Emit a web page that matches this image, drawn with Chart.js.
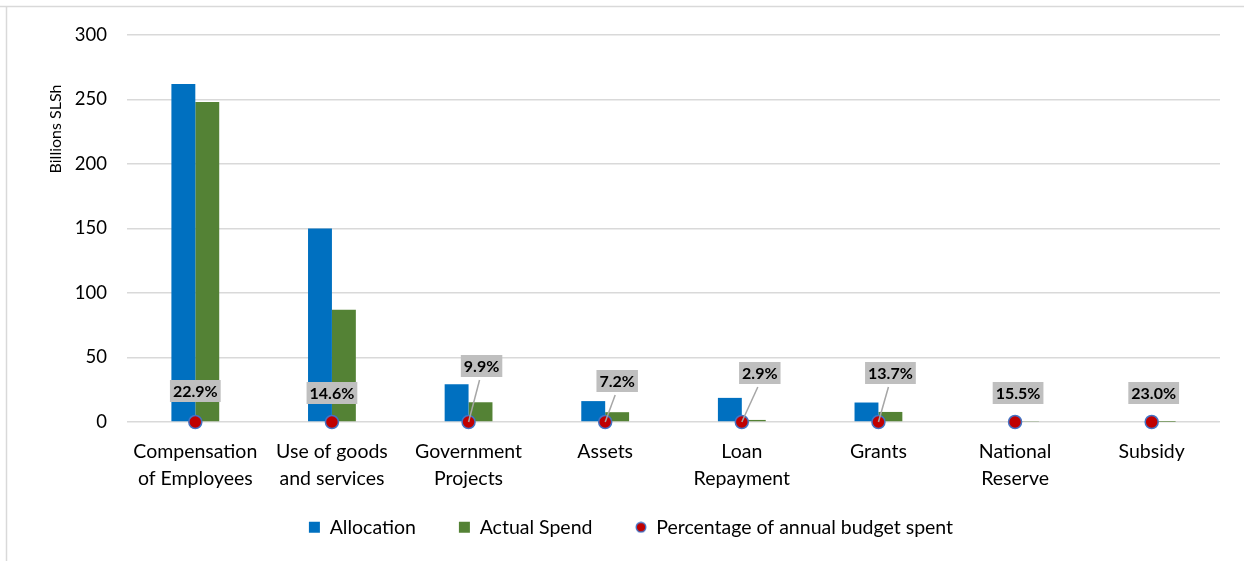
<!DOCTYPE html>
<html>
<head>
<meta charset="utf-8">
<script src="https://cdn.jsdelivr.net/npm/chart.js@4.4.1/dist/chart.umd.min.js"></script>
<style>
  html, body { margin: 0; padding: 0; background: #fff; }
  #wrap { position: relative; width: 1244px; height: 561px; }
</style>
</head>
<body>
<div id="wrap"><canvas id="budgetChart"></canvas></div>
<script>
// Spending by economic classification
const categories = [
    ['Compensation', 'of Employees'],
    ['Use of goods', 'and services'],
    ['Government', 'Projects'],
    'Assets',
    ['Loan', 'Repayment'],
    'Grants',
    ['National', 'Reserve'],
    'Subsidy'
];
const allocation = [262, 150, 29.3, 16.2, 18.7, 15.1, 0.6, 0.6];
const actualSpend = [248, 87, 15.3, 7.6, 1.6, 7.8, 0.4, 0.1];
const pctSpent = [22.9, 14.6, 9.9, 7.2, 2.9, 13.7, 15.5, 23.0];
const yMax = 300;
const yStep = 50;

// where each percentage box sits relative to its dot, and whether it gets a leader line
const labelOffsets = [[0, -31], [0, -29], [13, -56], [12, -41], [18, -49], [12, -49], [3, -29], [2, -29]];
const hasLeader = [false, false, true, true, true, true, false, false];

const FONT = 'Lato, "Noto Sans", sans-serif';
const PLOT_BOTTOM = 422;
const PAD_BOTTOM = 14;

// small red dot with blue rim for the legend
const legendDot = document.createElement('canvas');
legendDot.width = 12;
legendDot.height = 12;
(function () {
    const g = legendDot.getContext('2d');
    g.beginPath();
    g.arc(6, 6, 4.8, 0, Math.PI * 2);
    g.fillStyle = '#C00000';
    g.fill();
    g.lineWidth = 1.4;
    g.strokeStyle = '#4472C4';
    g.stroke();
})();

// light frame on the top and left edge
const framePlugin = {
    id: 'frame',
    beforeDraw(chart) {
        const ctx = chart.ctx;
        ctx.save();
        ctx.fillStyle = '#fff';
        ctx.fillRect(0, 0, chart.width, chart.height);
        ctx.strokeStyle = '#D9D9D9';
        ctx.lineWidth = 1.5;
        ctx.beginPath();
        ctx.moveTo(0, 6.5);
        ctx.lineTo(chart.width, 6.5);
        ctx.moveTo(6.5, 6.5);
        ctx.lineTo(6.5, chart.height);
        ctx.stroke();
        ctx.restore();
    }
};

// the two-line category labels hang below the x box, so let the label clip reach them
const xLabelRoom = {
    id: 'xLabelRoom',
    afterLayout(chart) {
        const x = chart.scales.x;
        x.bottom = 512;
        x.height = x.bottom - x.top;
    }
};

// axis title sits near the top of the value axis
const yTitlePlugin = {
    id: 'yTitle',
    afterDraw(chart) {
        const ctx = chart.ctx;
        ctx.save();
        ctx.translate(56, 129);
        ctx.rotate(-Math.PI / 2);
        ctx.font = '16px ' + FONT;
        ctx.fillStyle = '#000';
        ctx.textAlign = 'center';
        ctx.textBaseline = 'middle';
        ctx.fillText('Billions SLSh', 0, 0);
        ctx.restore();
    }
};

// grey percentage boxes above the dots
const pctLabelPlugin = {
    id: 'pctLabels',
    afterDatasetsDraw(chart) {
        const ctx = chart.ctx;
        const meta = chart.getDatasetMeta(2);
        ctx.save();
        ctx.font = 'bold 16px ' + FONT;
        meta.data.forEach((pt, i) => {
            const [dx, dy] = labelOffsets[i];
            const cx = pt.x + dx;
            const cy = pt.y + dy;
            const text = pctSpent[i].toFixed(1) + '%';
            const w = ctx.measureText(text).width + 6;
            const h = 22;
            if (hasLeader[i]) {
                ctx.strokeStyle = '#A6A6A6';
                ctx.lineWidth = 1.5;
                ctx.beginPath();
                ctx.moveTo(cx - 2, cy + h / 2 + 3);
                ctx.lineTo(pt.x, pt.y);
                ctx.stroke();
            }
            ctx.fillStyle = '#BFBFBF';
            ctx.fillRect(cx - w / 2, cy - h / 2, w, h);
            ctx.fillStyle = '#000';
            ctx.textAlign = 'center';
            ctx.textBaseline = 'middle';
            ctx.fillText(text, cx, cy + 1);
        });
        ctx.restore();
    }
};

new Chart(document.getElementById('budgetChart'), {
    data: {
        labels: categories,
        datasets: [
            {
                type: 'bar',
                label: 'Allocation',
                data: allocation,
                backgroundColor: '#0070C0',
                pointStyle: 'rect',
                categoryPercentage: 0.35,
                barPercentage: 1,
                order: 2
            },
            {
                type: 'bar',
                label: 'Actual Spend',
                data: actualSpend,
                backgroundColor: '#548235',
                pointStyle: 'rect',
                categoryPercentage: 0.35,
                barPercentage: 1,
                order: 2
            },
            {
                type: 'line',
                label: 'Percentage of annual budget spent',
                data: pctSpent.map(() => 0),
                showLine: false,
                pointStyle: 'circle',
                pointRadius: 6.5,
                pointBackgroundColor: '#C00000',
                pointBorderColor: '#4472C4',
                pointBorderWidth: 1.5,
                backgroundColor: '#C00000',
                borderColor: '#4472C4',
                borderWidth: 1.5,
                clip: false,
                order: 1
            }
        ]
    },
    options: {
        responsive: true,
        maintainAspectRatio: false,
        animation: false,
        layout: { padding: { top: 35, right: 24, left: 42, bottom: PAD_BOTTOM } },
        scales: {
            x: {
                grid: { display: false },
                border: { display: false },
                ticks: {
                    color: '#000',
                    font: { family: FONT, size: 19.5, lineHeight: 1.35 },
                    padding: 9,
                    maxRotation: 0,
                    autoSkip: false
                },
                afterFit(scale) {
                    const c = scale.chart;
                    scale.height = c.height - PAD_BOTTOM - PLOT_BOTTOM - c.legend.height;
                }
            },
            y: {
                min: 0,
                max: yMax,
                grid: { color: '#D9D9D9', lineWidth: 1.5, drawTicks: false },
                border: { display: false },
                ticks: {
                    stepSize: yStep,
                    color: '#000',
                    padding: 20,
                    font: { family: FONT, size: 18.5 }
                },
                afterFit(scale) { scale.width = 85; }
            }
        },
        plugins: {
            legend: {
                position: 'bottom',
                labels: {
                    usePointStyle: true,
                    boxWidth: 11,
                    boxHeight: 11,
                    padding: 43,
                    color: '#000',
                    font: { family: FONT, size: 19.5 },
                    sort: (a, b) => a.datasetIndex - b.datasetIndex,
                    generateLabels(chart) {
                        const items = Chart.defaults.plugins.legend.labels.generateLabels(chart);
                        items.forEach(item => {
                            if (item.datasetIndex === 2) item.pointStyle = legendDot;
                        });
                        return items;
                    }
                }
            },
            tooltip: { enabled: false }
        }
    },
    plugins: [framePlugin, xLabelRoom, yTitlePlugin, pctLabelPlugin]
});
</script>
</body>
</html>
